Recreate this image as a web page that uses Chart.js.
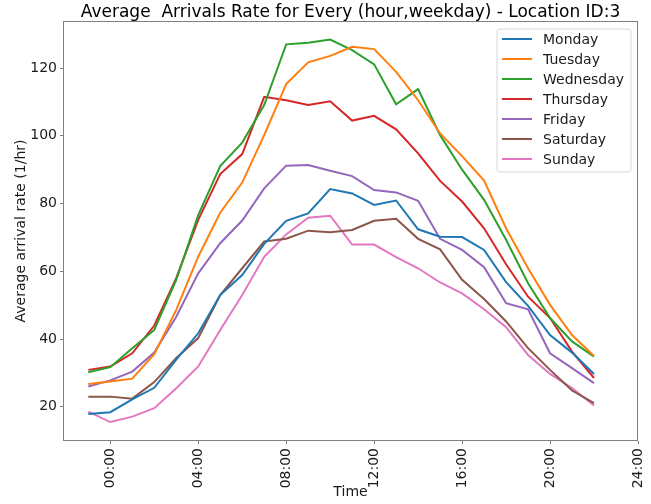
<!DOCTYPE html>
<html>
<head>
<meta charset="utf-8">
<title>Average Arrivals Rate - Location ID:3</title>
<script src="https://cdn.jsdelivr.net/npm/chart.js@4.4.1/dist/chart.umd.min.js"></script>
<style>
  html, body { margin: 0; padding: 0; background: #fff; }
  #wrap { width: 651px; height: 504px; }
</style>
</head>
<body>
<div id="wrap"><canvas id="arrivalsChart" width="651" height="504"></canvas></div>
<script>
// hour of day (x), one value per hour
const hours = [-1, 0, 1, 2, 3, 4, 5, 6, 7, 8, 9, 10, 11, 12, 13, 14, 15, 16, 17, 18, 19, 20, 21, 22];

const monday    = [17.9, 18.4, 22.2, 25.6, 33.9, 41.7, 53.0, 58.9, 68.1, 74.9, 77.1, 84.3, 83.0, 79.6, 80.9, 72.4, 70.2, 70.1, 66.3, 56.8, 49.8, 41.2, 36.0, 29.7];
const tuesday   = [26.7, 27.5, 28.3, 35.5, 48.6, 64.3, 77.3, 86.2, 100.2, 115.3, 121.7, 123.6, 126.3, 125.6, 118.9, 110.5, 100.7, 94.0, 86.8, 72.7, 60.9, 50.1, 41.2, 35.0];
const wednesday = [30.2, 31.7, 37.3, 42.7, 57.5, 76.6, 91.1, 98.0, 109.1, 127.0, 127.5, 128.4, 125.3, 121.1, 109.3, 113.8, 100.2, 90.0, 81.1, 69.3, 56.5, 46.2, 39.3, 34.8];
const thursday  = [30.9, 31.9, 35.8, 44.0, 58.0, 75.2, 88.7, 94.6, 111.5, 110.5, 109.1, 110.2, 104.5, 105.9, 101.9, 94.8, 86.7, 80.6, 72.7, 62.1, 52.5, 46.2, 36.3, 28.5];
const friday    = [26.0, 27.8, 30.4, 36.0, 46.6, 59.4, 68.3, 75.0, 84.5, 91.2, 91.4, 89.7, 88.1, 84.0, 83.3, 80.8, 69.6, 66.3, 61.2, 50.6, 48.8, 35.8, 31.4, 27.0];
const saturday  = [23.0, 23.0, 22.4, 27.3, 34.4, 40.3, 53.0, 60.9, 68.8, 69.6, 72.0, 71.5, 72.2, 74.9, 75.5, 69.6, 66.5, 57.5, 51.8, 45.2, 37.3, 30.9, 24.8, 21.1];
const sunday    = [18.6, 15.5, 17.1, 19.6, 25.5, 31.9, 42.7, 53.0, 64.3, 70.9, 75.8, 76.4, 67.9, 67.9, 64.2, 60.9, 56.7, 53.5, 48.8, 43.5, 35.3, 29.7, 25.5, 20.4];

const xTickValues = [0, 4, 8, 12, 16, 20, 24];
const xTickLabels = ["00:00", "04:00", "08:00", "12:00", "16:00", "20:00", "24:00"];
const yTickValues = [20, 40, 60, 80, 100, 120];

const titleText = "Average  Arrivals Rate for Every (hour,weekday) - Location ID:3";
const fontFamily = "'DejaVu Sans', sans-serif";

const toPoints = (values) => values.map((v, i) => ({ x: hours[i], y: v }));

const makeSet = (label, values, color) => ({
    label: label,
    data: toPoints(values),
    borderColor: color,
    backgroundColor: color,
    borderWidth: 2,
    pointRadius: 0,
    tension: 0,
    fill: false,
});

// matplotlib-like title centred over the plot area
const plotTitle = {
    id: "plotTitle",
    afterDraw(chart) {
        const { ctx, chartArea } = chart;
        ctx.save();
        ctx.font = "17px " + fontFamily;
        ctx.fillStyle = "#000";
        ctx.textAlign = "center";
        ctx.textBaseline = "alphabetic";
        ctx.fillText(titleText, (chartArea.left + chartArea.right) / 2, chartArea.top - 4);
        ctx.restore();
    }
};

// box around the axes
const frame = {
    id: "frame",
    afterDatasetsDraw(chart) {
        const { ctx, chartArea } = chart;
        ctx.save();
        ctx.strokeStyle = "#808080";
        ctx.lineWidth = 1;
        ctx.strokeRect(chartArea.left + 0.5, chartArea.top + 0.5,
            chartArea.right - chartArea.left - 1, chartArea.bottom - chartArea.top - 1);
        ctx.restore();
    }
};

// legend in the upper right corner, inside the axes
const boxLegend = {
    id: "boxLegend",
    afterDraw(chart) {
        const { ctx, chartArea } = chart;
        const sets = chart.data.datasets;
        const w = 134, rowH = 20, h = sets.length * rowH + 3, r = 3;
        const right = chartArea.right - 7;
        const top = chartArea.top + 8;
        const left = right - w;
        ctx.save();
        ctx.beginPath();
        ctx.moveTo(left + r, top);
        ctx.lineTo(right - r, top);
        ctx.arcTo(right, top, right, top + r, r);
        ctx.lineTo(right, top + h - r);
        ctx.arcTo(right, top + h, right - r, top + h, r);
        ctx.lineTo(left + r, top + h);
        ctx.arcTo(left, top + h, left, top + h - r, r);
        ctx.lineTo(left, top + r);
        ctx.arcTo(left, top, left + r, top, r);
        ctx.closePath();
        ctx.fillStyle = "rgba(255,255,255,0.8)";
        ctx.fill();
        ctx.strokeStyle = "#d6d6d6";
        ctx.lineWidth = 1;
        ctx.stroke();

        ctx.font = "14px " + fontFamily;
        ctx.textBaseline = "middle";
        ctx.textAlign = "left";
        sets.forEach((ds, i) => {
            const y = top + 10 + i * rowH;
            ctx.strokeStyle = ds.borderColor;
            ctx.lineWidth = 2;
            ctx.beginPath();
            ctx.moveTo(left + 5, y);
            ctx.lineTo(left + 35, y);
            ctx.stroke();
            ctx.fillStyle = "#1a1a1a";
            ctx.fillText(ds.label, left + 46, y + 1);
        });
        ctx.restore();
    }
};

const chart = new Chart(document.getElementById("arrivalsChart"), {
    type: "line",
    data: {
        datasets: [
            makeSet("Monday", monday, "#1f77b4"),
            makeSet("Tuesday", tuesday, "#ff7f0e"),
            makeSet("Wednesday", wednesday, "#2ca02c"),
            makeSet("Thursday", thursday, "#d62728"),
            makeSet("Friday", friday, "#9467bd"),
            makeSet("Saturday", saturday, "#8c564b"),
            makeSet("Sunday", sunday, "#e377c2"),
        ]
    },
    options: {
        responsive: false,
        animation: false,
        devicePixelRatio: 1,
        layout: { padding: { left: 0, right: 13, top: 21, bottom: 0 } },
        plugins: {
            legend: { display: false },
            tooltip: { enabled: false },
        },
        scales: {
            x: {
                type: "linear",
                min: -2.15,
                max: 24,
                afterFit: (scale) => {
                    scale.height = 63;
                    scale.paddingLeft = 0;
                    scale.paddingRight = 0;
                },
                afterBuildTicks: (scale) => { scale.ticks = xTickValues.map(v => ({ value: v })); },
                grid: { display: true, drawOnChartArea: false, drawTicks: true, tickLength: 3, color: "#808080" },
                border: { display: false },
                ticks: {
                    minRotation: 90,
                    maxRotation: 90,
                    padding: 4,
                    color: "#1a1a1a",
                    font: { family: fontFamily, size: 14 },
                    callback: (value) => xTickLabels[xTickValues.indexOf(value)],
                },
                title: {
                    display: true,
                    text: "Time",
                    color: "#1a1a1a",
                    font: { family: fontFamily, size: 14 },
                    padding: { top: 0, bottom: 3 },
                },
            },
            y: {
                min: 9.9,
                max: 133.9,
                afterFit: (scale) => {
                    scale.width = 63;
                    scale.paddingTop = 0;
                    scale.paddingBottom = 0;
                },
                afterBuildTicks: (scale) => { scale.ticks = yTickValues.map(v => ({ value: v })); },
                grid: { display: true, drawOnChartArea: false, drawTicks: true, tickLength: 3, color: "#808080" },
                border: { display: false },
                ticks: {
                    padding: 3,
                    color: "#1a1a1a",
                    font: { family: fontFamily, size: 14 },
                },
                title: {
                    display: true,
                    text: "Average arrival rate (1/hr)",
                    color: "#1a1a1a",
                    font: { family: fontFamily, size: 14 },
                    padding: { top: 13, bottom: 0 },
                },
            },
        },
    },
    plugins: [plotTitle, frame, boxLegend],
});
</script>
</body>
</html>
